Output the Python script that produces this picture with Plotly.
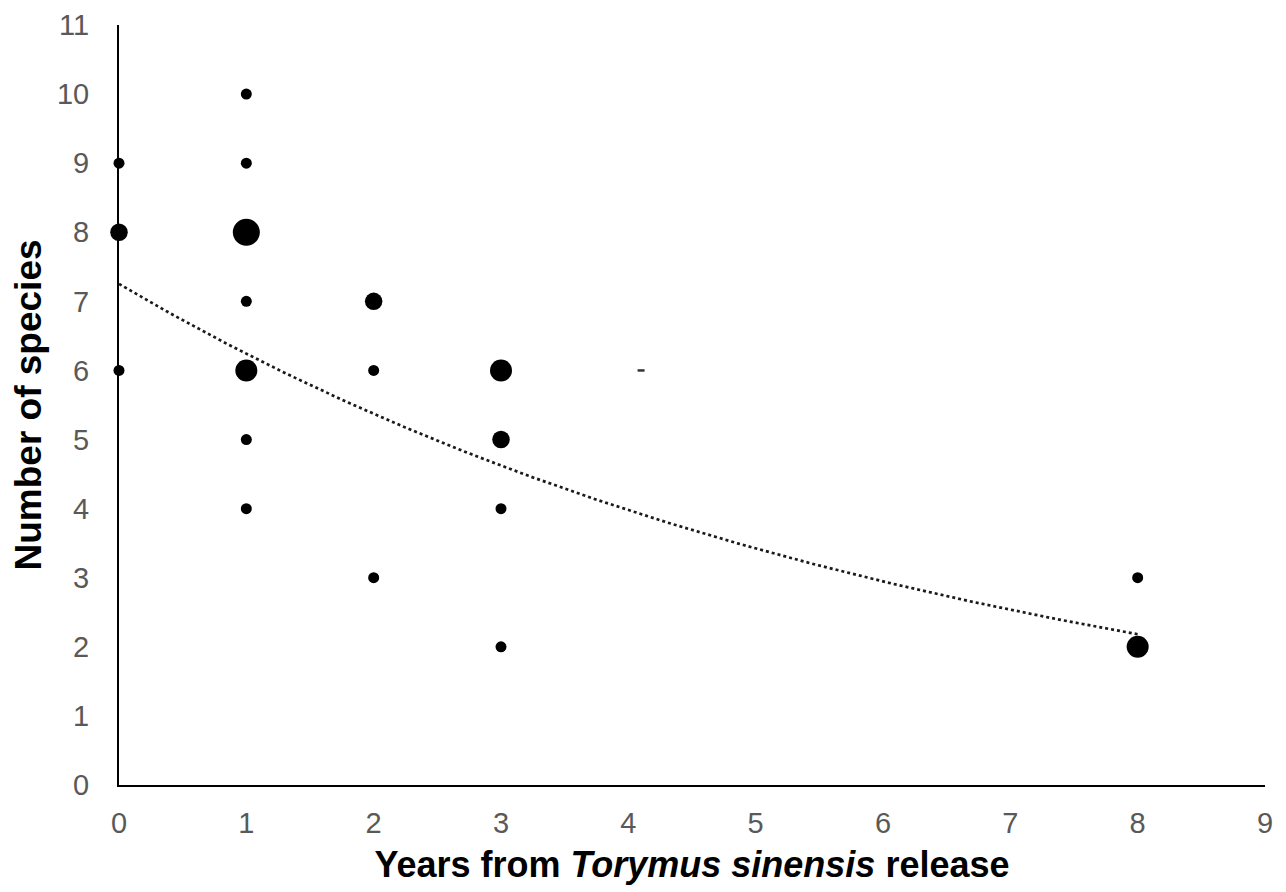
import numpy as np
import plotly.graph_objects as go

# Data
years = [0, 0, 0, 1, 1, 1, 1, 1, 1, 1, 2, 2, 2, 3, 3, 3, 3, 8, 8]
species = [9, 8, 6, 10, 9, 8, 7, 6, 5, 4, 7, 6, 3, 6, 5, 4, 2, 3, 2]
counts = [1, 2, 1, 1, 1, 4, 1, 3, 1, 1, 2, 1, 1, 3, 2, 1, 1, 1, 3]
stray_x = [4.1]
stray_y = [6]

x_ticks = list(range(0, 10))
y_ticks = list(range(0, 12))

# style: marker diameter per count class
diam = {1: 11, 2: 17.5, 3: 22, 4: 27}
sizes = [diam[c] for c in counts]

# exponential trendline (least squares on ln y), like a spreadsheet trendline
xa = np.array(years, dtype=float)
ya = np.array(species, dtype=float)
b, lna = np.polyfit(xa, np.log(ya), 1)
xt = np.linspace(0, 8, 200)
yt = np.exp(lna) * np.exp(b * xt)

fig = go.Figure()
fig.add_trace(go.Scatter(
    x=xt, y=yt, mode="lines",
    line=dict(color="#1a1a1a", width=2.7, dash="dot"),
    hoverinfo="skip", showlegend=False))
fig.add_trace(go.Scatter(
    x=years, y=species, mode="markers",
    marker=dict(color="black", size=sizes, opacity=1, line=dict(width=0)),
    cliponaxis=False, showlegend=False))
fig.add_trace(go.Scatter(
    x=stray_x, y=stray_y, mode="markers",
    marker=dict(color="#333333", size=5, opacity=1, symbol="line-ew", line=dict(width=2.5, color="#333333")),
    showlegend=False))

tickfont = dict(family="Liberation Sans, Arial, sans-serif", size=29, color="#595959")
xtitlefont = dict(family="Liberation Sans, Arial, sans-serif", size=36, color="black")
ytitlefont = dict(family="Liberation Sans, Arial, sans-serif", size=37, color="black")

fig.update_layout(
    width=1286, height=892,
    margin=dict(l=111, r=29, t=17, b=115),
    paper_bgcolor="white", plot_bgcolor="white",
    xaxis=dict(
        range=[0, 9], tickmode="array", tickvals=x_ticks,
        showgrid=False, zeroline=False, showline=True, linecolor="black", linewidth=2,
        ticks="", tickfont=tickfont, ticklabelstandoff=11,
        title=dict(text="<b>Years from <i>Torymus sinensis</i> release</b>", font=xtitlefont, standoff=14),
        automargin=False,
    ),
    yaxis=dict(
        range=[0, 11], tickmode="array", tickvals=y_ticks,
        showgrid=False, zeroline=False, showline=True, linecolor="black", linewidth=2,
        ticks="", tickfont=tickfont, ticklabelstandoff=22,
        title=dict(text="<b>Number of species</b>", font=ytitlefont, standoff=12),
        automargin=False,
    ),
)

fig.write_html("out.html")
